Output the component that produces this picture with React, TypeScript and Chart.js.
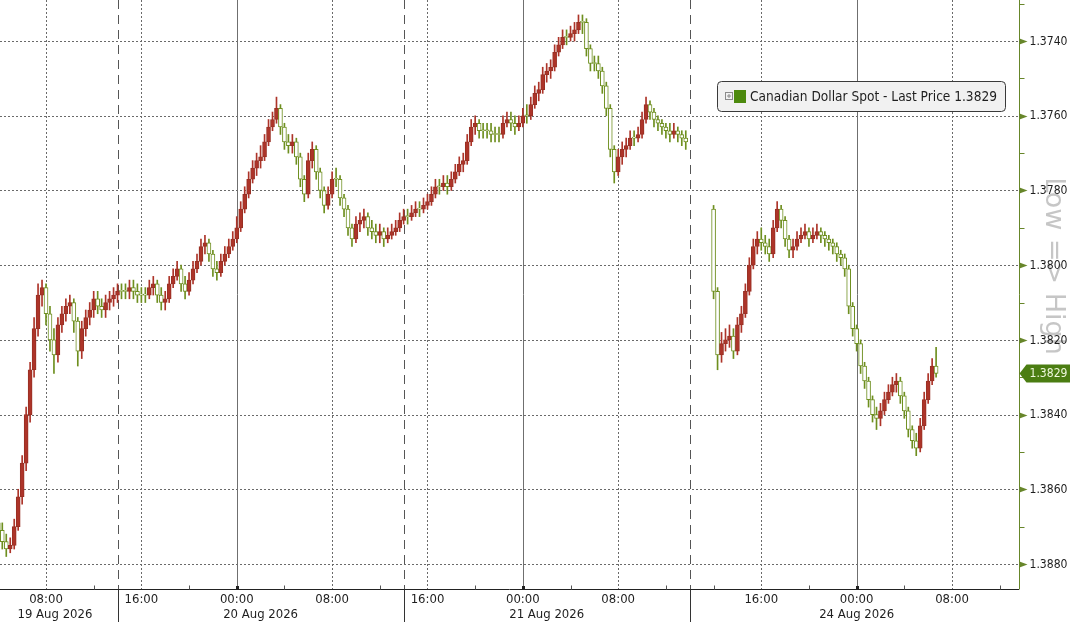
import React, { useEffect, useRef } from "react";
import { Chart, registerables } from "chart.js";

Chart.register(...registerables);

// ---------- data ----------
// Axis time in hours from 19 Aug 2026 00:00, with the weekend (Fri 14:00 -> Sun 14:00) cut out.
const BAR_MINUTES = 20;
const segmentStartHours = [4, 64];
const segmentFirstOpen = [1.3869, 1.3785];

const closeA = [
  1.3871, 1.3874, 1.3876, 1.3875, 1.3870, 1.3862, 1.3853, 1.3840, 1.3828, 1.3817,
  1.3808, 1.3806, 1.3813, 1.3820, 1.3824, 1.3816, 1.3813, 1.3811, 1.3810, 1.3815,
  1.3823, 1.3817, 1.3814, 1.3812, 1.3809, 1.3811, 1.3812, 1.3810, 1.3809, 1.3808,
  1.3807, 1.3807, 1.3807, 1.3806, 1.3807, 1.3808, 1.3808, 1.3808, 1.3806, 1.3805,
  1.3808, 1.3810, 1.3809, 1.3805, 1.3803, 1.3801, 1.3805, 1.3807, 1.3804, 1.3801,
  1.3799, 1.3795, 1.3794, 1.3797, 1.3801, 1.3802, 1.3799, 1.3797, 1.3795, 1.3793,
  1.3790, 1.3785, 1.3781, 1.3777, 1.3774, 1.3772, 1.3771, 1.3767, 1.3763, 1.3761,
  1.3758, 1.3763, 1.3767, 1.3768, 1.3767, 1.3771, 1.3777, 1.3781, 1.3772, 1.3769,
  1.3775, 1.3780, 1.3784, 1.3781, 1.3777, 1.3777, 1.3782, 1.3785, 1.3790, 1.3793,
  1.3789, 1.3788, 1.3787, 1.3790, 1.3791, 1.3792, 1.3791, 1.3793, 1.3792, 1.3791,
  1.3790, 1.3788, 1.3787, 1.3787, 1.3786, 1.3785, 1.3785, 1.3784, 1.3783, 1.3781,
  1.3779, 1.3779, 1.3778, 1.3779, 1.3777, 1.3775, 1.3773, 1.3772, 1.3767, 1.3763,
  1.3762, 1.3764, 1.3764, 1.3764, 1.3765, 1.3765, 1.3765, 1.3762, 1.3761, 1.3762,
  1.3763, 1.3762, 1.3760, 1.3760, 1.3757, 1.3754, 1.3753, 1.3749, 1.3748, 1.3747,
  1.3743, 1.3741, 1.3739, 1.3739, 1.3738, 1.3737, 1.3735, 1.3735, 1.3742, 1.3746,
  1.3746, 1.3748, 1.3752, 1.3758, 1.3769, 1.3775, 1.3771, 1.3769, 1.3768, 1.3766,
  1.3766, 1.3765, 1.3761, 1.3757, 1.3759, 1.3761, 1.3762, 1.3763, 1.3764, 1.3765,
  1.3764, 1.3765, 1.3766, 1.3767,
];
const highA = [
  1.3873, 1.3876, 1.3878, 1.3877, 1.3876, 1.3871, 1.3864, 1.3855, 1.3842, 1.3830,
  1.3819, 1.3811, 1.3816, 1.3823, 1.3829, 1.3826, 1.3818, 1.3815, 1.3813, 1.3818,
  1.3827, 1.3825, 1.3819, 1.3816, 1.3814, 1.3813, 1.3814, 1.3814, 1.3812, 1.3811,
  1.3810, 1.3809, 1.3809, 1.3809, 1.3809, 1.3810, 1.3810, 1.3810, 1.3809, 1.3808,
  1.3810, 1.3812, 1.3812, 1.3810, 1.3806, 1.3804, 1.3807, 1.3809, 1.3808, 1.3805,
  1.3802, 1.3800, 1.3797, 1.3799, 1.3803, 1.3804, 1.3803, 1.3800, 1.3798, 1.3796,
  1.3794, 1.3791, 1.3786, 1.3782, 1.3778, 1.3776, 1.3774, 1.3772, 1.3768, 1.3764,
  1.3762, 1.3765, 1.3769, 1.3770, 1.3770, 1.3773, 1.3779, 1.3783, 1.3782, 1.3774,
  1.3777, 1.3782, 1.3786, 1.3785, 1.3782, 1.3779, 1.3784, 1.3787, 1.3792, 1.3795,
  1.3794, 1.3791, 1.3790, 1.3792, 1.3793, 1.3794, 1.3794, 1.3795, 1.3794, 1.3793,
  1.3792, 1.3791, 1.3789, 1.3789, 1.3788, 1.3787, 1.3787, 1.3786, 1.3785, 1.3784,
  1.3782, 1.3781, 1.3780, 1.3781, 1.3780, 1.3778, 1.3776, 1.3775, 1.3773, 1.3768,
  1.3765, 1.3766, 1.3766, 1.3766, 1.3767, 1.3767, 1.3767, 1.3766, 1.3763, 1.3764,
  1.3765, 1.3764, 1.3763, 1.3762, 1.3761, 1.3758, 1.3756, 1.3754, 1.3751, 1.3750,
  1.3748, 1.3744, 1.3742, 1.3741, 1.3740, 1.3740, 1.3738, 1.3738, 1.3744, 1.3748,
  1.3748, 1.3750, 1.3754, 1.3760, 1.3771, 1.3778, 1.3776, 1.3773, 1.3771, 1.3769,
  1.3768, 1.3767, 1.3766, 1.3762, 1.3761, 1.3763, 1.3764, 1.3765, 1.3766, 1.3767,
  1.3766, 1.3767, 1.3768, 1.3769,
];
const lowA = [
  1.3866, 1.3869, 1.3872, 1.3873, 1.3868, 1.3860, 1.3851, 1.3838, 1.3826, 1.3814,
  1.3805, 1.3804, 1.3805, 1.3811, 1.3817, 1.3814, 1.3811, 1.3809, 1.3808, 1.3809,
  1.3814, 1.3815, 1.3812, 1.3810, 1.3807, 1.3807, 1.3809, 1.3808, 1.3807, 1.3806,
  1.3805, 1.3805, 1.3805, 1.3804, 1.3804, 1.3805, 1.3806, 1.3806, 1.3804, 1.3803,
  1.3804, 1.3806, 1.3807, 1.3803, 1.3801, 1.3799, 1.3800, 1.3803, 1.3802, 1.3799,
  1.3797, 1.3793, 1.3792, 1.3793, 1.3796, 1.3799, 1.3797, 1.3795, 1.3793, 1.3791,
  1.3787, 1.3783, 1.3779, 1.3775, 1.3772, 1.3770, 1.3768, 1.3765, 1.3761, 1.3759,
  1.3755, 1.3757, 1.3762, 1.3765, 1.3765, 1.3766, 1.3770, 1.3776, 1.3770, 1.3767,
  1.3768, 1.3774, 1.3779, 1.3779, 1.3775, 1.3774, 1.3776, 1.3781, 1.3784, 1.3789,
  1.3787, 1.3786, 1.3785, 1.3786, 1.3788, 1.3789, 1.3789, 1.3790, 1.3790, 1.3789,
  1.3788, 1.3786, 1.3785, 1.3785, 1.3784, 1.3783, 1.3783, 1.3782, 1.3781, 1.3779,
  1.3777, 1.3777, 1.3776, 1.3776, 1.3775, 1.3773, 1.3771, 1.3770, 1.3765, 1.3761,
  1.3760, 1.3761, 1.3762, 1.3762, 1.3762, 1.3763, 1.3763, 1.3760, 1.3759, 1.3759,
  1.3760, 1.3760, 1.3758, 1.3757, 1.3755, 1.3752, 1.3751, 1.3747, 1.3746, 1.3745,
  1.3741, 1.3739, 1.3737, 1.3737, 1.3736, 1.3735, 1.3733, 1.3733, 1.3734, 1.3741,
  1.3744, 1.3744, 1.3747, 1.3751, 1.3757, 1.3768, 1.3769, 1.3767, 1.3766, 1.3764,
  1.3764, 1.3763, 1.3759, 1.3755, 1.3756, 1.3758, 1.3760, 1.3761, 1.3762, 1.3762,
  1.3762, 1.3763, 1.3764, 1.3764,
];

const closeB = [
  1.3807, 1.3824, 1.3821, 1.3820, 1.3819, 1.3823, 1.3816, 1.3813, 1.3807, 1.3800,
  1.3795, 1.3793, 1.3794, 1.3795, 1.3797, 1.3790, 1.3785, 1.3788, 1.3793, 1.3796,
  1.3795, 1.3793, 1.3792, 1.3791, 1.3793, 1.3792, 1.3791, 1.3792, 1.3793, 1.3794,
  1.3795, 1.3797, 1.3798, 1.3801, 1.3811, 1.3817, 1.3821, 1.3827, 1.3831, 1.3836,
  1.3840, 1.3841, 1.3839, 1.3836, 1.3834, 1.3832, 1.3831, 1.3835, 1.3839, 1.3844,
  1.3847, 1.3849, 1.3843, 1.3836, 1.3831, 1.3827, 1.3829,
];
const highB = [
  1.3809, 1.3828, 1.3826, 1.3823, 1.3822, 1.3825, 1.3824, 1.3818, 1.3814, 1.3808,
  1.3801, 1.3797, 1.3796, 1.3797, 1.3799, 1.3798, 1.3791, 1.3790, 1.3795, 1.3798,
  1.3798, 1.3796, 1.3794, 1.3793, 1.3795, 1.3794, 1.3793, 1.3794, 1.3795, 1.3796,
  1.3797, 1.3799, 1.3800, 1.3803, 1.3813, 1.3819, 1.3823, 1.3829, 1.3833, 1.3838,
  1.3842, 1.3844, 1.3843, 1.3840, 1.3837, 1.3835, 1.3834, 1.3837, 1.3841, 1.3846,
  1.3849, 1.3851, 1.3850, 1.3844, 1.3837, 1.3832, 1.3830,
];
const lowB = [
  1.3784, 1.3806, 1.3818, 1.3817, 1.3816, 1.3817, 1.3814, 1.3811, 1.3805, 1.3798,
  1.3793, 1.3791, 1.3790, 1.3792, 1.3793, 1.3788, 1.3783, 1.3784, 1.3787, 1.3792,
  1.3793, 1.3791, 1.3790, 1.3789, 1.3790, 1.3790, 1.3789, 1.3790, 1.3791, 1.3792,
  1.3793, 1.3794, 1.3796, 1.3797, 1.3800, 1.3810, 1.3816, 1.3820, 1.3826, 1.3830,
  1.3835, 1.3838, 1.3837, 1.3834, 1.3832, 1.3830, 1.3829, 1.3830, 1.3834, 1.3838,
  1.3843, 1.3845, 1.3841, 1.3834, 1.3829, 1.3825, 1.3822,
];

const yMajorTicks = [1.374, 1.376, 1.378, 1.38, 1.382, 1.384, 1.386, 1.388];
const yMinorTicks = [1.373, 1.375, 1.377, 1.379, 1.381, 1.383, 1.385, 1.387];
const xTickHours = [8, 16, 24, 32, 40, 48, 56, 68, 76, 84];
const xTickLabels = ["08:00", "16:00", "00:00", "08:00", "16:00", "00:00", "08:00", "16:00", "00:00", "08:00"];
const xMinorHours = [12, 20, 28, 36, 44, 52, 60, 64, 72, 80, 88];
const dayStartHours = [24, 48, 76];
const sessionBreakHours = [14, 38, 62];
const dateLabels = ["19 Aug 2026", "20 Aug 2026", "21 Aug 2026", "24 Aug 2026"];
const dateLabelHours = [8.75, 26, 50, 76];
const seriesName = "Canadian Dollar Spot - Last Price";
const lastPrice = 1.3829;
const watermarkText = "Low => High";

const X_MIN = 4.141;
const X_MAX = 89.62;
const Y_MIN = 1.3729;
const Y_MAX = 1.38867;

// ---------- styles ----------
const GREEN = "#6e8f1f";
const RED = "#ad3429";
const RED_EDGE = "#983024";
const AXIS_GREEN = "#67862a";
const TAG_GREEN = "#4b7d12";
const FONT_FAMILY = '"DejaVu Sans Condensed", "DejaVu Sans", sans-serif';

type Bar = { x: number; o: number; h: number; l: number; c: number };

function buildBars(start: number, open0: number, close: number[], high: number[], low: number[]): Bar[] {
  const out: Bar[] = [];
  let prev = open0;
  close.forEach((c, i) => {
    out.push({ x: start + (i * BAR_MINUTES) / 60, o: prev, h: high[i], l: low[i], c });
    prev = c;
  });
  return out;
}

const bars: Bar[] = [
  ...buildBars(segmentStartHours[0], segmentFirstOpen[0], closeA, highA, lowA),
  ...buildBars(segmentStartHours[1], segmentFirstOpen[1], closeB, highB, lowB),
];

function fitText(ctx: any, text: string, target: number, base: number) {
  ctx.font = `${base}px ${FONT_FAMILY}`;
  const w = ctx.measureText(text).width;
  const size = Math.max(9, Math.min(16, (base * target) / w));
  ctx.font = `${size.toFixed(2)}px ${FONT_FAMILY}`;
}

const axesPlugin = {
  id: "bbgAxes",
  beforeDatasetsDraw(chart: any) {
    const { ctx, chartArea: a } = chart;
    const xs = chart.scales.x;
    const ys = chart.scales.y;
    const line = (x1: number, y1: number, x2: number, y2: number) => {
      ctx.beginPath();
      ctx.moveTo(x1, y1);
      ctx.lineTo(x2, y2);
      ctx.stroke();
    };
    ctx.save();
    ctx.lineWidth = 1;
    ctx.strokeStyle = "#6a6a6a";
    ctx.setLineDash([2, 2]);
    yMajorTicks.forEach((v) => {
      const py = Math.round(ys.getPixelForValue(v)) + 0.5;
      line(a.left, py, a.right, py);
    });
    xTickHours.forEach((h) => {
      if (dayStartHours.includes(h)) return;
      const px = Math.round(xs.getPixelForValue(h)) + 0.5;
      line(px, a.top, px, a.bottom);
    });
    ctx.strokeStyle = "#555555";
    ctx.setLineDash([9, 6]);
    sessionBreakHours.forEach((h) => {
      const px = Math.round(xs.getPixelForValue(h)) + 0.5;
      line(px, a.top, px, a.bottom);
    });
    ctx.setLineDash([]);
    ctx.strokeStyle = "#6f6f6f";
    dayStartHours.forEach((h) => {
      const px = Math.round(xs.getPixelForValue(h)) + 0.5;
      line(px, a.top, px, a.bottom);
    });
    ctx.restore();
  },
  afterDraw(chart: any) {
    const { ctx, chartArea: a } = chart;
    const xs = chart.scales.x;
    const ys = chart.scales.y;
    const W = chart.width;
    const H = chart.height;
    const line = (x1: number, y1: number, x2: number, y2: number) => {
      ctx.beginPath();
      ctx.moveTo(x1, y1);
      ctx.lineTo(x2, y2);
      ctx.stroke();
    };
    ctx.save();

    // watermark
    ctx.save();
    ctx.translate(a.right + 34, 266);
    ctx.rotate(Math.PI / 2);
    ctx.font = `27px "DejaVu Sans", sans-serif`;
    ctx.fillStyle = "#c6c6c6";
    ctx.textAlign = "center";
    ctx.textBaseline = "middle";
    ctx.fillText(watermarkText, 0, 0);
    ctx.restore();

    // x axis
    const axY = Math.round(a.bottom) + 0.5;
    ctx.lineWidth = 1;
    ctx.strokeStyle = "#222222";
    line(0, axY, a.right, axY);
    ctx.strokeStyle = "#555555";
    xMinorHours.forEach((h) => {
      const px = Math.round(xs.getPixelForValue(h)) + 0.5;
      line(px, axY - 4, px, axY);
    });
    ctx.fillStyle = "#222222";
    dayStartHours.forEach((h) => {
      const px = Math.round(xs.getPixelForValue(h));
      ctx.fillRect(px - 1, axY - 3.5, 3, 3);
    });
    ctx.strokeStyle = "#333333";
    sessionBreakHours.forEach((h) => {
      const px = Math.round(xs.getPixelForValue(h)) + 0.5;
      line(px, axY, px, H);
    });
    ctx.font = `13px ${FONT_FAMILY}`;
    ctx.fillStyle = "#1e1e1e";
    ctx.textAlign = "center";
    ctx.textBaseline = "middle";
    xTickHours.forEach((h, i) => {
      ctx.fillText(xTickLabels[i], xs.getPixelForValue(h), axY + 10);
    });
    dateLabels.forEach((t, i) => {
      ctx.fillText(t, xs.getPixelForValue(dateLabelHours[i]), axY + 25);
    });

    // y axis (right)
    const axX = Math.round(a.right) + 0.5;
    ctx.strokeStyle = AXIS_GREEN;
    line(axX, 0, axX, axY);
    yMinorTicks.forEach((v) => {
      const py = Math.round(ys.getPixelForValue(v)) + 0.5;
      line(axX, py, axX + 5, py);
    });
    ctx.fillStyle = AXIS_GREEN;
    yMajorTicks.forEach((v) => {
      const py = Math.round(ys.getPixelForValue(v)) + 0.5;
      ctx.beginPath();
      ctx.moveTo(axX, py - 3);
      ctx.lineTo(axX + 8, py);
      ctx.lineTo(axX, py + 3);
      ctx.closePath();
      ctx.fill();
    });
    ctx.fillStyle = "#1e1e1e";
    ctx.textAlign = "left";
    fitText(ctx, "1.3740", 38, 13);
    yMajorTicks.forEach((v) => {
      ctx.fillText(v.toFixed(4), axX + 10, ys.getPixelForValue(v) + 0.5);
    });

    // last price tag
    const ly = ys.getPixelForValue(lastPrice);
    ctx.fillStyle = TAG_GREEN;
    ctx.beginPath();
    ctx.moveTo(axX, ly);
    ctx.lineTo(axX + 7, ly - 9);
    ctx.lineTo(W, ly - 9);
    ctx.lineTo(W, ly + 9);
    ctx.lineTo(axX + 7, ly + 9);
    ctx.closePath();
    ctx.fill();
    ctx.fillStyle = "#eef7dc";
    ctx.fillText(lastPrice.toFixed(4), axX + 10, ly + 0.5);

    // legend box
    const lx = 717.5, lyTop = 81.5, lw = 288, lh = 30;
    ctx.beginPath();
    ctx.roundRect(lx, lyTop, lw, lh, 4);
    ctx.fillStyle = "#f1f1f1";
    ctx.fill();
    ctx.strokeStyle = "#3a3a3a";
    ctx.stroke();
    ctx.strokeStyle = "#8a8a8a";
    ctx.strokeRect(725.5, 92.5, 7, 7);
    ctx.beginPath();
    ctx.moveTo(727, 96);
    ctx.lineTo(731, 96);
    ctx.moveTo(729, 94);
    ctx.lineTo(729, 98);
    ctx.stroke();
    ctx.fillStyle = "#4d8a0e";
    ctx.fillRect(734, 90, 12, 13);
    const legendText = `${seriesName} ${lastPrice.toFixed(4)}`;
    fitText(ctx, legendText, 247, 14);
    ctx.fillStyle = "#1e1e1e";
    ctx.textAlign = "left";
    ctx.fillText(legendText, 750, 97);

    ctx.restore();
  },
};

export default function App() {
  const canvasRef = useRef<HTMLCanvasElement | null>(null);

  useEffect(() => {
    document.body.style.margin = "0";
    const canvas = canvasRef.current;
    if (!canvas) return;

    const isUp = (b: Bar) => b.c >= b.o;
    const chart = new Chart(canvas, {
      type: "bar",
      data: {
        datasets: [
          {
            label: "body",
            data: bars.map((b) => ({ x: b.x, y: [b.o, b.c] })) as any,
            backgroundColor: bars.map((b) => (isUp(b) ? "#ffffff" : RED)),
            borderColor: bars.map((b) => (isUp(b) ? GREEN : RED_EDGE)),
            borderWidth: 1,
            borderSkipped: false,
            barThickness: 4,
            minBarLength: 1,
            grouped: false,
            order: 1,
          } as any,
          {
            label: "wick",
            data: bars.map((b) => ({ x: b.x, y: [b.l, b.h] })) as any,
            backgroundColor: bars.map((b) => (isUp(b) ? GREEN : RED)),
            borderWidth: 0,
            barThickness: 1,
            grouped: false,
            order: 2,
          } as any,
        ],
      },
      options: {
        responsive: false,
        animation: false,
        devicePixelRatio: 1,
        layout: { padding: { left: 0, top: 0, right: 51, bottom: 33 } },
        plugins: { legend: { display: false }, tooltip: { enabled: false } },
        scales: {
          x: { type: "linear", min: X_MIN, max: X_MAX, offset: false, display: false },
          y: { type: "linear", min: Y_MIN, max: Y_MAX, reverse: true, display: false },
        },
      } as any,
      plugins: [axesPlugin],
    });
    return () => chart.destroy();
  }, []);

  return <canvas ref={canvasRef} width={1070} height={622} style={{ display: "block" }} />;
}
